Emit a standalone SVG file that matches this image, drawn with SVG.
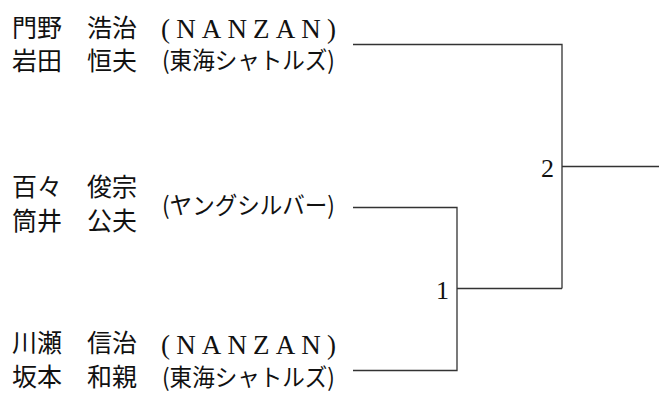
<svg xmlns="http://www.w3.org/2000/svg" width="659" height="401" viewBox="0 0 659 401">
<style>
.nm{font-family:"Noto Sans CJK JP","Liberation Serif",sans-serif;font-size:25px;fill:#111}
.af{font-family:"Liberation Serif","Noto Sans CJK JP",serif;font-size:27px;fill:#111}
.afj{font-family:"Noto Sans CJK JP","Liberation Serif",sans-serif;font-size:24px;fill:#111}
.num{font-family:"Liberation Serif",serif;font-size:26px;fill:#111;text-anchor:end}
.ln{fill:none;stroke:#333;stroke-width:1.3}
</style>
<rect width="659" height="401" fill="#fff"/>
<g id="entry1">
<text class="nm" x="12" y="37">門野　浩治</text>
<text class="af" x="161" y="38" textLength="175" lengthAdjust="spacing">(NANZAN)</text>
<text class="nm" x="12" y="70">岩田　恒夫</text>
<text class="afj" x="162" y="69" textLength="173" lengthAdjust="spacingAndGlyphs">(東海シャトルズ)</text>
</g>
<g id="entry2">
<text class="nm" x="12" y="196">百々　俊宗</text>
<text class="nm" x="12" y="230">筒井　公夫</text>
<text class="afj" x="162" y="214" textLength="173" lengthAdjust="spacingAndGlyphs">(ヤングシルバー)</text>
</g>
<g id="entry3">
<text class="nm" x="12" y="352">川瀬　信治</text>
<text class="af" x="161" y="354" textLength="175" lengthAdjust="spacing">(NANZAN)</text>
<text class="nm" x="12" y="386">坂本　和親</text>
<text class="afj" x="162" y="386" textLength="173" lengthAdjust="spacingAndGlyphs">(東海シャトルズ)</text>
</g>
<g id="match1">
<text class="num" x="449" y="299">1</text>
</g>
<g id="match2">
<text class="num" x="554" y="177">2</text>
</g>
<g id="connectors">
<path class="ln" d="M353,44.5 H562 V288.5"/>
<path class="ln" d="M353,207.5 H457 V370.5 H353"/>
<path class="ln" d="M457,288.5 H562"/>
<path class="ln" d="M562,166.5 H659"/>
</g>
</svg>
